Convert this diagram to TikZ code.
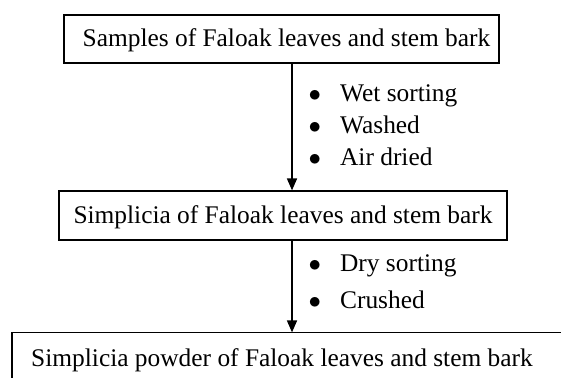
\documentclass[tikz,border=0pt]{standalone}
\usepackage{fontspec}
\setmainfont{Liberation Serif}
\usetikzlibrary{arrows.meta}

\tikzset{
  stage/.style={draw, line width=1.2pt, inner sep=0pt, minimum height=48pt,
    text height=18pt, text depth=2pt},
  flow/.style={line width=1.6pt, -{Triangle[length=12pt,width=10pt]}},
  stepitem/.style={anchor=base west, inner sep=0pt},
}

\begin{document}
\begin{tikzpicture}[x=1pt, y=-1pt, font=\fontsize{25.4}{30}\selectfont]
% Drawing window
\useasboundingbox (0,0) rectangle (561,377);
\clip (0,0) rectangle (561,377);
\fill[white] (0,0) rectangle (561,377);

% Stages
\node[stage, minimum width=435] (samples) at (281.5,39) {\hspace{10pt}Samples of Faloak leaves and stem bark};
\node[stage, minimum width=448, minimum height=49] (simplicia) at (283,215.5) {Simplicia of Faloak leaves and stem bark};
\node[stage, draw=none, minimum height=50] (powder) at (282,358) {Simplicia powder of Faloak leaves and stem bark};

% Last frame runs off the page
\coordinate (frameleft) at (12,0);
\draw[line width=1.2pt] (frameleft |- powder.south) -- (frameleft |- powder.north) -- ++(600,0);

% Arrows
\coordinate (axis) at (292,0);
\draw[flow] (axis |- samples.south) -- (axis |- simplicia.north);
\draw[flow] (axis |- simplicia.south) -- (axis |- powder.north);

% Treatments
\foreach \txt [count=\i] in {Wet sorting, Washed, Air dried} {
  \node[stepitem] (wash\i) at (308.5,{69+32*\i}) {$\bullet$\hspace{19pt}\txt};
}
\foreach \txt [count=\i] in {Dry sorting, Crushed} {
  \node[stepitem] (dry\i) at (308.5,{234+37*\i}) {$\bullet$\hspace{19pt}\txt};
}

\end{tikzpicture}
\end{document}
